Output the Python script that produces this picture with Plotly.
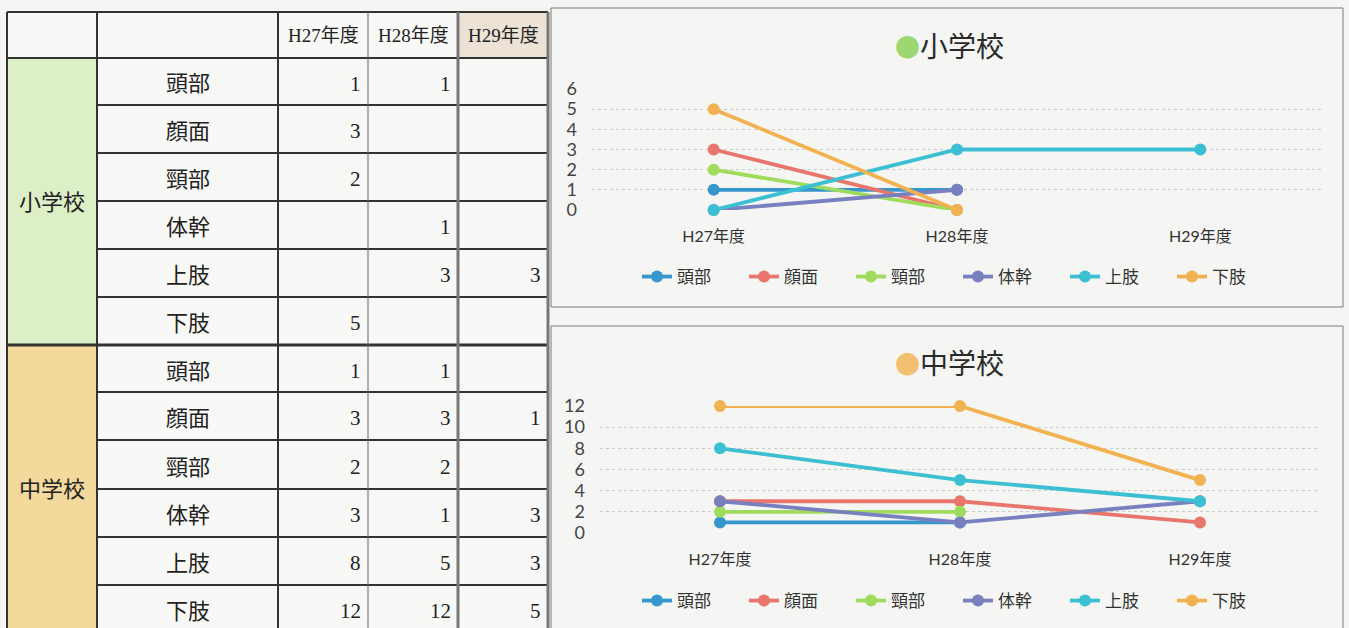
import plotly.graph_objects as go

# ---- data -------------------------------------------------------------
years = ["H27年度", "H28年度", "H29年度"]
parts = ["頭部", "顔面", "頸部", "体幹", "上肢", "下肢"]

# counts per body part (None = empty cell)
elem_head = [1, 1, None]
elem_face = [3, None, None]
elem_neck = [2, None, None]
elem_trunk = [None, 1, None]
elem_arm = [None, 3, 3]
elem_leg = [5, None, None]

mid_head = [1, 1, None]
mid_face = [3, 3, 1]
mid_neck = [2, 2, None]
mid_trunk = [3, 1, 3]
mid_arm = [8, 5, 3]
mid_leg = [12, 12, 5]

elem_rows = [elem_head, elem_face, elem_neck, elem_trunk, elem_arm, elem_leg]
mid_rows = [mid_head, mid_face, mid_neck, mid_trunk, mid_arm, mid_leg]

colors = ["#3597cc", "#e8766c", "#9fdc5e", "#7880c0", "#3cbfd2", "#f2b252"]

W, H = 1349, 628


def px(x):
    return x / W


def py(y):
    return 1 - y / H


def plotted(vals):
    # empty cells in the closed years (H27, H28) are zero counts;
    # an empty H29 cell is simply not plotted
    return [(0 if v is None else v) if i < 2 else v for i, v in enumerate(vals)]


fig = go.Figure()

for rows, xa, ya, lg in [(elem_rows, "x", "y", "legend"), (mid_rows, "x2", "y2", "legend2")]:
    for name, vals, c in zip(parts, rows, colors):
        fig.add_trace(go.Scatter(
            x=[0, 1, 2], y=plotted(vals), name=name, mode="lines+markers",
            line=dict(color=c, width=3.8), marker=dict(color=c, size=12),
            xaxis=xa, yaxis=ya, legend=lg, cliponaxis=False, connectgaps=False,
        ))

axis_font = dict(family="Lato, Noto Sans CJK JP", size=18, color="#444")
cat_font = dict(family="Lato, Noto Sans CJK JP", size=16, color="#333")
grid = dict(showgrid=True, gridcolor="#c6ccc8", gridwidth=1, griddash="dot",
            zeroline=False, ticks="", showline=False, automargin=False)

legend_common = dict(orientation="h", xanchor="left", yanchor="middle",
                     entrywidth=62, entrywidthmode="pixels", bgcolor="rgba(0,0,0,0)",
                     font=dict(family="Noto Sans CJK JP", size=17, color="#333"))

fig.update_layout(
    width=W, height=H, margin=dict(l=0, r=0, t=0, b=0, autoexpand=False),
    paper_bgcolor="#f5f6f3", plot_bgcolor="rgba(0,0,0,0)",
    xaxis=dict(domain=[px(592), px(1322)], range=[-0.5, 2.5], tickvals=[0, 1, 2],
               ticktext=years, showgrid=False, zeroline=False, ticks="", automargin=False,
               tickfont=cat_font, ticklabelstandoff=15, anchor="y"),
    yaxis=dict(domain=[py(210), py(89)], range=[0, 6], dtick=1, tickfont=axis_font,
               ticklabelstandoff=14, anchor="x", **grid),
    xaxis2=dict(domain=[px(600), px(1320)], range=[-0.5, 2.5], tickvals=[0, 1, 2],
                ticktext=years, showgrid=False, zeroline=False, ticks="", automargin=False,
                tickfont=cat_font, ticklabelstandoff=15, anchor="y2"),
    yaxis2=dict(domain=[py(533), py(406)], range=[0, 12], dtick=2, tickfont=axis_font,
                ticklabelstandoff=14, anchor="x2", **grid),
    legend=dict(x=px(637), y=py(277), **legend_common),
    legend2=dict(x=px(637), y=py(601), **legend_common),
    showlegend=True,
)

shapes = []
annots = []


def label(x, y, text, font, xanchor="center"):
    annots.append(dict(xref="paper", yref="paper", x=px(x), y=py(y), text=text,
                       showarrow=False, xanchor=xanchor, yanchor="middle", font=font))


# chart frames
for y0, y1 in [(8, 307), (326, 660)]:
    shapes.append(dict(type="rect", xref="paper", yref="paper", x0=px(551), x1=px(1343),
                       y0=py(y1), y1=py(y0), line=dict(color="#7a7a7a", width=1)))

# chart titles
for name, dot, yc in [("小学校", "#9ed672", 45), ("中学校", "#f2c070", 362)]:
    label(949, yc, f"<span style='color:{dot};font-size:25px'>●</span>{name}",
          dict(family="Noto Sans CJK JP", size=28, color="#2a2a2a"))

# ---- table -------------------------------------------------------------
col_x = [7, 97, 278, 368, 458, 548]
row_y = [12, 58, 105, 153, 201, 249, 297, 345, 392, 440, 489, 537, 585, 640]


def rect(x0, y0, x1, y1, fill):
    shapes.append(dict(type="rect", xref="paper", yref="paper", x0=px(x0), x1=px(x1),
                       y0=py(y1), y1=py(y0), fillcolor=fill, line=dict(width=0), layer="below"))


rect(col_x[0], row_y[0], col_x[-1], row_y[-1], "#f8f8f6")
rect(col_x[0], row_y[1], col_x[1], row_y[7], "#dcefc6")
rect(col_x[0], row_y[7], col_x[1], row_y[-1], "#f4d99c")
rect(col_x[4], row_y[0], col_x[5], row_y[1], "#ece2d6")


def hline(x0, x1, y, color="#333", width=2):
    shapes.append(dict(type="line", xref="paper", yref="paper", x0=px(x0), x1=px(x1),
                       y0=py(y), y1=py(y), line=dict(color=color, width=width)))


def vline(x, y0, y1, color="#333", width=2):
    shapes.append(dict(type="line", xref="paper", yref="paper", x0=px(x), x1=px(x),
                       y0=py(y0), y1=py(y1), line=dict(color=color, width=width)))


# horizontal borders
hline(col_x[0], col_x[-1], row_y[0])
hline(col_x[0], col_x[-1], row_y[1])
hline(col_x[0], col_x[-1], row_y[7], width=3)
for r in range(2, 13):
    if r != 7:
        hline(col_x[1], col_x[-1], row_y[r])

# vertical borders
vline(col_x[0], row_y[0], row_y[-1])
vline(col_x[1], row_y[0], row_y[-1])
vline(col_x[2], row_y[0], row_y[-1])
vline(col_x[3], row_y[0], row_y[-1], color="#666", width=1)
vline(col_x[4], row_y[0], row_y[-1], color="#777", width=3)
vline(col_x[5], row_y[0], row_y[-1], color="#777", width=3)

serif = dict(family="Liberation Serif, Noto Sans CJK JP", size=19, color="#222")
num_font = dict(family="Liberation Serif", size=21, color="#222")
gothic = dict(family="Noto Sans CJK JP", size=22, color="#222")

for j, yr in enumerate(years):
    label((col_x[2 + j] + col_x[3 + j]) / 2, 36, yr, serif)

for g, (gname, rows) in enumerate([("小学校", elem_rows), ("中学校", mid_rows)]):
    top = row_y[1 + 6 * g]
    bot = row_y[7 + 6 * g] if g == 0 else 633
    label(52, (top + bot) / 2 - 2, gname, gothic)
    for i, (pname, vals) in enumerate(zip(parts, rows)):
        r0 = row_y[1 + 6 * g + i]
        r1 = row_y[2 + 6 * g + i] if not (g == 1 and i == 5) else 633
        yc = (r0 + r1) / 2
        label(188, yc, pname, gothic)
        for j, v in enumerate(vals):
            if v is not None:
                label(col_x[3 + j] - 5, yc + 2, str(v), num_font, xanchor="right")

fig.update_layout(shapes=shapes, annotations=annots)
fig.write_html("out.html")
